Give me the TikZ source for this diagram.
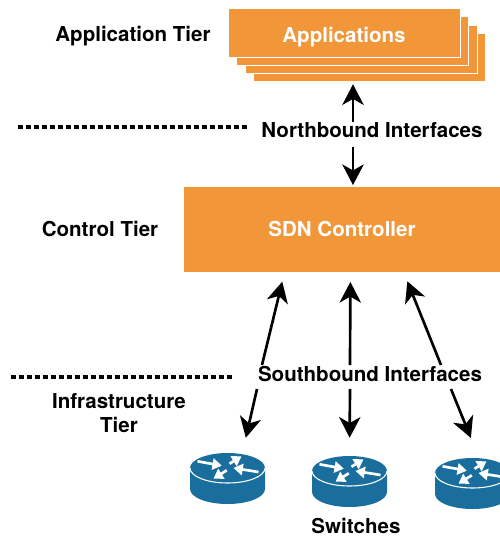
\documentclass[tikz,border=0pt]{standalone}
\usepackage{fontspec}
\setmainfont{TeX Gyre Heros}
\usetikzlibrary{arrows.meta,positioning}
\definecolor{tierorange}{HTML}{F2963A}
\definecolor{switchblue}{HTML}{1A6E9E}
\tikzset{
    tierbox/.style={fill=tierorange,draw=white,line width=.6pt,inner sep=0pt,font=\bfseries\fontsize{15.4}{18}\selectfont,text=white},
    tierlabel/.style={font=\bfseries\fontsize{15.4}{18}\selectfont,align=center},
    boundary/.style={line width=2.3pt,dash pattern=on 3.8pt off 2.2pt},
    link/.style={-{Stealth[length=15.5pt,width=16pt,inset=4.5pt]},line width=2pt},
    swbox/.style={minimum width=56.25pt,minimum height=38.25pt,inner sep=0pt},
    swarrow/.style={-{Triangle[length=7pt,width=8.5pt]},white,line width=2pt}
}
\begin{document}
\begin{tikzpicture}[x=.75pt,y=-.75pt]

                \useasboundingbox (0,0) rectangle (500,537);

                % application stack, back to front
                \foreach \name/\x/\y in {app3/369/57.5, app2/361/49.5, app1/352.5/41}
                    {
                    \node[tierbox,minimum width=174pt,minimum height=36.5pt] (\name) at (\x,\y) {};
                    }
                \node[tierbox,minimum width=174pt,minimum height=36.5pt,text height=14.5pt,text depth=0pt] (apps) at (344,33) {Applications};

                \node[tierbox,minimum width=238pt,minimum height=64.5pt] (ctrl) at (342,229.5) {SDN Controller};

                % switches
                \foreach \name/\x/\y in {sw1/227.5/468, sw2/349.5/471, sw3/472.5/473}
                    {
                    \node[swbox] (\name) at (\x,\y+10.5) {};
                    \begin{scope}[shift={(\x,\y)}]
                        \fill[switchblue] (-37.5,0) -- (-37.5,21) arc[start angle=180,end angle=360,x radius=37.5,y radius=-15] -- (37.5,0) arc[start angle=0,end angle=180,x radius=37.5,y radius=-15];
                        \draw[white,line width=.8pt] (-37.5,0) arc[start angle=180,end angle=360,x radius=37.5,y radius=-15];
                        \draw[swarrow] (-30,-6.7) -- (-5.7,-2.3);
                        \draw[swarrow] (2,-4.3) -- (14,-11.7);
                        \draw[swarrow] (31,4) -- (6,0);
                        \draw[swarrow] (-.7,2.3) -- (-14,10.7);
                    \end{scope}
                    }

                % labels
                \node[tierlabel] (apptier) at (133,36) {Application Tier};
                \node[tierlabel] (ctrltier) at (100,229) {Control Tier};
                \node[tierlabel] (infratier) at (119,413) {Infrastructure\\Tier};
                \node[tierlabel] (northbound) at (372,130) {Northbound Interfaces};
                \node[tierlabel] (southbound) at (370,374) {Southbound Interfaces};
                \node[tierlabel] (switches) at (356,526) {Switches};

                % tier boundaries
                \coordinate (d1) at (18,127);
                \coordinate (d2) at (248,127);
                \coordinate (d3) at (11,377);
                \coordinate (d4) at (233,377);
                \draw[boundary] (d1) -- (d2);
                \draw[boundary] (d3) -- (d4);

                % free ends next to the interface labels
                \foreach \name/\x/\y in {n1/353/122, n2/353/147, a1/262/365, b1/350/365, c1/441/365, a2/257/389, b2/350/389, c2/451/389}
                    {
                    \coordinate (\name) at (\x,\y);
                    }

                \draw[link,shorten >=1.5pt] (n1) -- (n1 |- app3.south);
                \draw[link,shorten >=.75pt] (n2) -- (n2 |- ctrl.north);

                \foreach \from/\to in {a1/ctrl.217, b1/ctrl.281, c1/ctrl.325}
                    {
                    \draw[link,shorten >=6.75pt] (\from) -- (\to);
                    }

                \foreach \from/\to/\gap in {a2/sw1.60/11.5pt, b2/sw2.north/13.5pt, c2/sw3.76/16pt}
                    {
                    \draw[link,shorten >=\gap] (\from) -- (\to);
                    }

            \end{tikzpicture}
\end{document}
